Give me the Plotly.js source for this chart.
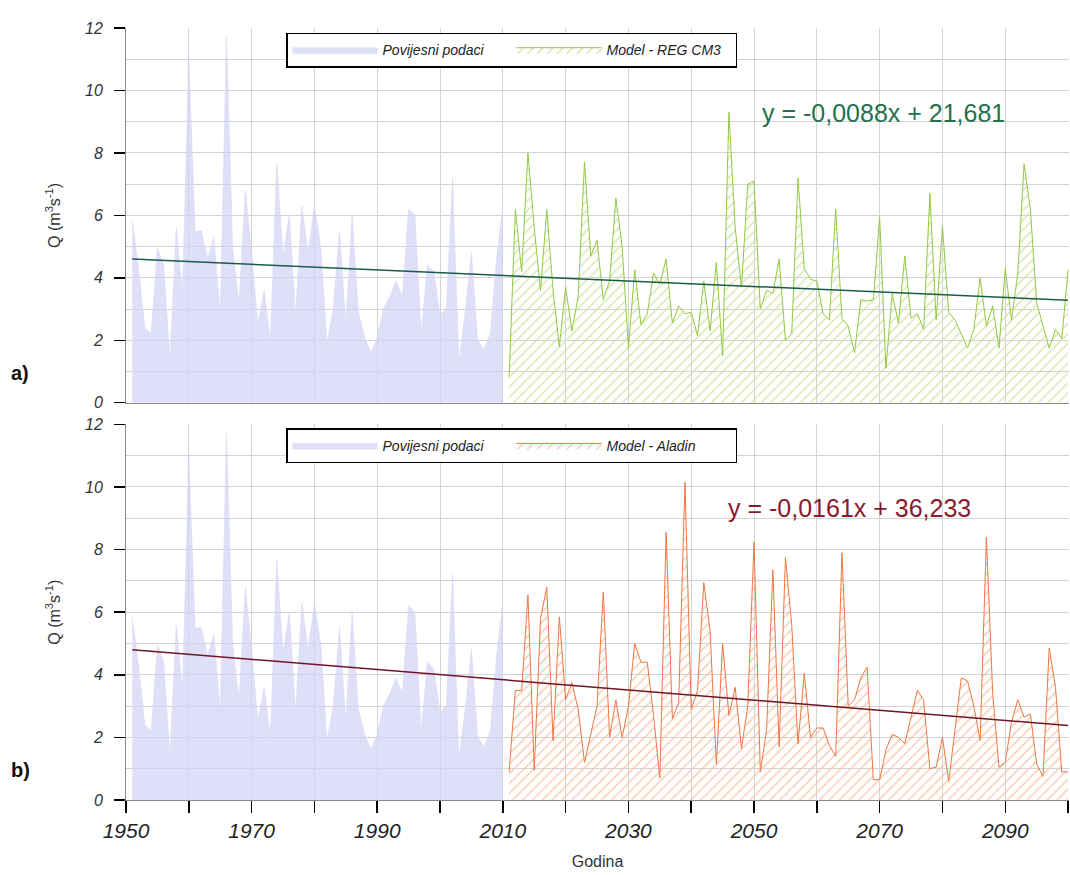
<!DOCTYPE html>
<html>
<head>
<meta charset="utf-8">
<script src="https://cdn.plot.ly/plotly-3.0.1.min.js"></script>
<style>
  html, body { margin: 0; padding: 0; background: #ffffff; }
  #chart { width: 1070px; height: 875px; }
</style>
</head>
<body>
<div id="chart"></div>
<script>
// ---------- data ----------
const histStartYear = 1951;
const histValues = [
  5.85, 4.3, 2.4, 2.2, 4.95, 4.4, 1.4, 5.6, 3.5, 11.1,
  5.5, 5.5, 4.6, 5.3, 2.8, 11.7, 4.9, 3.2, 6.8, 4.8,
  2.5, 3.6, 2.0, 7.7, 4.7, 6.0, 2.8, 6.3, 4.8, 6.3,
  5.0, 1.9, 3.0, 5.5, 2.5, 6.0, 2.9, 2.1, 1.6, 2.1,
  3.0, 3.4, 3.9, 3.4, 6.2, 6.0, 2.2, 4.4, 4.2, 2.8,
  3.0, 7.2, 1.3, 2.9, 4.8, 2.0, 1.7, 2.2, 4.6, 6.3
];

const modelStartYear = 2011;
const regcm3Values = [
  0.83, 6.18, 4.2, 8.0, 5.6, 3.6, 6.18, 3.6, 1.8, 3.7,
  2.3, 3.4, 7.7, 4.7, 5.2, 3.3, 3.9, 6.55, 5.0, 1.75,
  4.25, 2.5, 2.85, 4.15, 3.8, 4.6, 2.55, 3.1, 2.85, 2.9,
  2.15, 3.9, 2.3, 4.5, 1.5, 9.3, 5.6, 3.7, 7.0, 7.1,
  3.0, 3.6, 3.5, 4.6, 2.0, 2.2, 7.2, 4.3, 3.95, 3.9,
  2.85, 2.65, 6.2, 2.7, 2.45, 1.6, 3.3, 3.25, 3.3, 5.95,
  1.1, 3.5, 2.55, 4.7, 2.7, 2.85, 2.35, 6.7, 2.65, 5.65,
  2.9, 2.65, 2.2, 1.75, 2.35, 4.0, 2.45, 3.1, 1.75, 4.3,
  2.65, 4.15, 7.65, 6.2, 3.2, 2.45, 1.75, 2.35, 2.05, 4.25
];
const aladinValues = [
  0.9, 3.5, 3.5, 6.55, 0.95, 5.8, 6.8, 1.9, 5.85, 3.2,
  3.75, 2.9, 1.2, 2.1, 3.0, 6.65, 2.0, 3.2, 2.0, 3.0,
  5.0, 4.4, 4.4, 2.7, 0.7, 8.55, 2.6, 3.1, 10.15, 2.9,
  3.5, 6.95, 5.4, 1.15, 5.0, 2.7, 3.6, 1.65, 3.0, 8.25,
  0.9, 2.25, 7.35, 1.7, 7.75, 5.6, 1.8, 4.05, 2.0, 2.3,
  2.3, 1.75, 1.4, 7.9, 3.0, 3.2, 3.9, 4.25, 0.65, 0.65,
  1.6, 2.1, 2.0, 1.8, 2.7, 3.5, 3.2, 1.0, 1.05, 2.0,
  0.6, 2.2, 3.9, 3.8, 3.0, 1.9, 8.4, 3.4, 1.05, 1.2,
  2.5, 3.2, 2.65, 2.75, 1.15, 0.75, 4.85, 3.6, 0.9, 0.9
];

// trend lines (end values) and their equations
const trendYears = [1951, 2100];
const trendRegcm3 = [4.6, 3.28];
const trendAladin = [4.8, 2.38];
const eqRegcm3 = "y = -0,0088x + 21,681";
const eqAladin = "y = -0,0161x + 36,233";

const legendNames = ["Povijesni podaci", "Model - REG CM3", "Model - Aladin"];
const yTitle = "Q (m<sup>3</sup>s<sup>-1</sup>)";
const xTitle = "Godina";

// ---------- derived ----------
const histYears = histValues.map((_, i) => histStartYear + i);
const modelYears = regcm3Values.map((_, i) => modelStartYear + i);

const FONT = "Liberation Sans, Arial, sans-serif";
const histFill = "rgba(210,210,245,0.72)";
const greenLine = "#93c841";
const orangeLine = "#ee7644";

function histTrace(xa, ya, leg) {
  return {
    type: "scatter", mode: "lines", x: histYears, y: histValues,
    xaxis: xa, yaxis: ya, legend: leg,
    name: legendNames[0],
    fill: "tozeroy", fillcolor: histFill,
    line: { color: "rgba(210,210,245,0.9)", width: 0.5 },
    hoverinfo: "skip"
  };
}
function modelTrace(vals, name, col, hatch, xa, ya, leg) {
  return {
    type: "scatter", mode: "lines", x: modelYears, y: vals,
    xaxis: xa, yaxis: ya, legend: leg, name: name,
    fill: "tozeroy", fillcolor: "rgba(255,255,255,0)",
    fillpattern: { shape: "/", fgcolor: hatch, bgcolor: "rgba(255,255,255,0)", size: 7, solidity: 0.18 },
    line: { color: col, width: 1 },
    hoverinfo: "skip"
  };
}
function trendTrace(vals, col, xa, ya) {
  return {
    type: "scatter", mode: "lines", x: trendYears, y: vals,
    xaxis: xa, yaxis: ya, showlegend: false,
    line: { color: col, width: 1.5 }, hoverinfo: "skip"
  };
}

const traces = [
  histTrace("x", "y", "legend"),
  modelTrace(regcm3Values, legendNames[1], greenLine, "#d2e4a4", "x", "y", "legend"),
  trendTrace(trendRegcm3, "#1b5b4c", "x", "y"),
  histTrace("x2", "y2", "legend2"),
  modelTrace(aladinValues, legendNames[2], orangeLine, "#f5c6aa", "x2", "y2", "legend2"),
  trendTrace(trendAladin, "#6e1526", "x2", "y2")
];

const grid = "#d3d3d3";
function yAxis(domain) {
  return {
    domain: domain, range: [0, 12], dtick: 2, tick0: 0,
    ticks: "outside", ticklen: 11, tickwidth: 1.5, tickcolor: "#000",
    ticklabelstandoff: 8,
    tickfont: { family: FONT, size: 16, style: "italic", color: "#333" },
    showgrid: true, gridcolor: grid, gridwidth: 1,
    minor: { dtick: 1, showgrid: true, gridcolor: grid, gridwidth: 1 },
    showline: true, linecolor: "#8a8a8a", linewidth: 1,
    zeroline: false, fixedrange: true,
    title: { text: yTitle, standoff: 20, font: { family: FONT, size: 16, color: "#333" } }
  };
}
function xAxis(anchor, labels) {
  const ax = {
    anchor: anchor, domain: [0, 1], range: [1950, 2100.15],
    tick0: 1950, dtick: 20,
    showgrid: true, gridcolor: grid, gridwidth: 1,
    minor: { dtick: 10, showgrid: true, gridcolor: grid, gridwidth: 1 },
    showline: true, linecolor: "#8a8a8a", linewidth: 1,
    zeroline: false, fixedrange: true
  };
  if (labels) {
    ax.ticks = "outside"; ax.ticklen = 12; ax.tickwidth = 1.5; ax.tickcolor = "#000";
    ax.minor.ticks = "outside"; ax.minor.ticklen = 12; ax.minor.tickwidth = 1.5; ax.minor.tickcolor = "#000";
    ax.tickfont = { family: FONT, size: 21, style: "italic", color: "#222" };
    ax.title = { text: xTitle, standoff: 14, font: { family: FONT, size: 16, color: "#333" } };
  } else {
    ax.showticklabels = false; ax.ticks = "";
  }
  return ax;
}
function legendBox(y) {
  return {
    orientation: "h", x: 0.1697, xanchor: "left", y: y, yanchor: "top",
    bgcolor: "#ffffff", bordercolor: "#000", borderwidth: 1.5,
    font: { family: FONT, size: 14, style: "italic", color: "#222" },
    itemwidth: 85, entrywidth: 124, entrywidthmode: "pixels",
    itemclick: false, itemdoubleclick: false
  };
}

const layout = {
  width: 1070, height: 875,
  margin: { l: 126, r: 1, t: 28, b: 75 },
  paper_bgcolor: "#ffffff", plot_bgcolor: "#ffffff",
  font: { family: FONT, color: "#333" },
  showlegend: true,
  xaxis: xAxis("y", false),
  yaxis: yAxis([0.5146, 1]),
  xaxis2: xAxis("y2", true),
  yaxis2: yAxis([0, 0.4866]),
  legend: legendBox(0.994),
  legend2: legendBox(0.4815),
  annotations: [
    { xref: "x", yref: "y", x: 2051.0, y: 9.28, xanchor: "left", yanchor: "middle",
      text: eqRegcm3, showarrow: false, font: { family: FONT, size: 25, color: "#23704c" } },
    { xref: "x2", yref: "y2", x: 2045.5, y: 9.33, xanchor: "left", yanchor: "middle",
      text: eqAladin, showarrow: false, font: { family: FONT, size: 25, color: "#8a1a2c" } },
    { xref: "paper", yref: "paper", x: -0.112, y: 0.553, xanchor: "center", yanchor: "middle",
      text: "<b>a)</b>", showarrow: false, font: { family: FONT, size: 20, color: "#111" } },
    { xref: "paper", yref: "paper", x: -0.112, y: 0.039, xanchor: "center", yanchor: "middle",
      text: "<b>b)</b>", showarrow: false, font: { family: FONT, size: 20, color: "#111" } }
  ]
};

Plotly.newPlot("chart", traces, layout, { displayModeBar: false, staticPlot: true });
</script>
</body>
</html>
